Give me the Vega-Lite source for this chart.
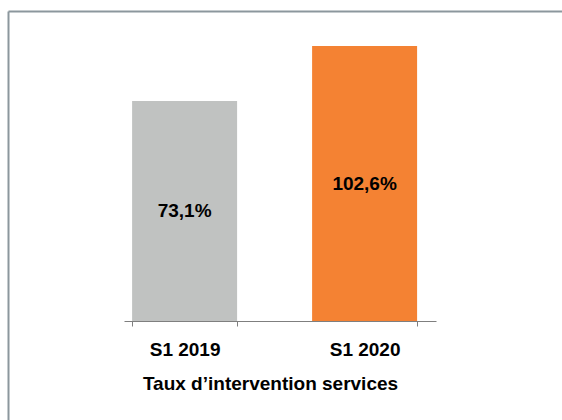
{
  "$schema": "https://vega.github.io/schema/vega-lite/v6.json",
  "autosize": "none",
  "width": 554,
  "height": 409,
  "padding": {"left": 8, "top": 11, "right": 0, "bottom": 0},
  "background": "white",
  "config": {
    "view": {"stroke": null},
    "font": "Liberation Sans"
  },
  "data": {
    "values": [
      {"period": "S1 2019", "value": 73.1, "label": "73,1%"},
      {"period": "S1 2020", "value": 102.6, "label": "102,6%"}
    ]
  },
  "layer": [
    {
      "mark": {"type": "bar"},
      "encoding": {
        "x": {
          "field": "period",
          "type": "nominal",
          "sort": null,
          "scale": {"type": "band", "range": [116, 428], "paddingInner": 0.4167, "paddingOuter": 0.075, "align": 0.3},
          "axis": {
            "title": "Taux d’intervention services",
            "titleFont": "Liberation Sans",
            "titleFontSize": 19,
            "titleFontWeight": "bold",
            "titleColor": "#000000",
            "titlePadding": 15,
            "titleX": 262,
            "labelFont": "Liberation Sans",
            "labelFontSize": 19,
            "labelFontWeight": "bold",
            "labelColor": "#000000",
            "labelPadding": 14,
            "labelAngle": 0,
            "domainColor": "#7F7F7F",
            "tickColor": "#7F7F7F",
            "tickSize": 5,
            "tickBand": "extent",
            "tickOffset": -8,
            "grid": false,
            "offset": -99
          }
        },
        "y": {
          "field": "value",
          "type": "quantitative",
          "scale": {"domain": [-44.9, 120], "range": [310, 2.6], "zero": false, "nice": false},
          "axis": null
        },
        "y2": {"datum": -44.9},
        "color": {
          "field": "period",
          "type": "nominal",
          "scale": {"domain": ["S1 2019", "S1 2020"], "range": ["#C0C2C1", "#F48233"]},
          "legend": null
        }
      }
    },
    {
      "mark": {"type": "text", "font": "Liberation Sans", "fontSize": 19, "fontWeight": "bold", "color": "#000000", "baseline": "middle", "align": "center"},
      "encoding": {
        "x": {
          "field": "period",
          "type": "nominal",
          "sort": null,
          "bandPosition": 0.5,
          "scale": {"type": "band", "range": [116, 428], "paddingInner": 0.4167, "paddingOuter": 0.075, "align": 0.3},
          "axis": null
        },
        "y": {
          "field": "value",
          "type": "quantitative",
          "scale": {"domain": [-44.9, 120], "range": [310, 156.3], "zero": false, "nice": false},
          "axis": null
        },
        "text": {"field": "label"}
      }
    },
    {
      "mark": {"type": "point", "opacity": 0},
      "encoding": {
        "x": {
          "field": "value",
          "type": "quantitative",
          "scale": {"domain": [0, 200]},
          "axis": {"orient": "top", "domainColor": "#8C979D", "domainWidth": 2, "ticks": false, "labels": false, "title": null, "grid": false}
        },
        "y": {
          "field": "value",
          "type": "quantitative",
          "scale": {"domain": [0, 200]},
          "axis": {"orient": "left", "domainColor": "#8C979D", "domainWidth": 2, "ticks": false, "labels": false, "title": null, "grid": false}
        }
      }
    }
  ],
  "resolve": {
    "scale": {"x": "independent", "y": "independent"},
    "axis": {"x": "independent", "y": "independent"}
  }
}
